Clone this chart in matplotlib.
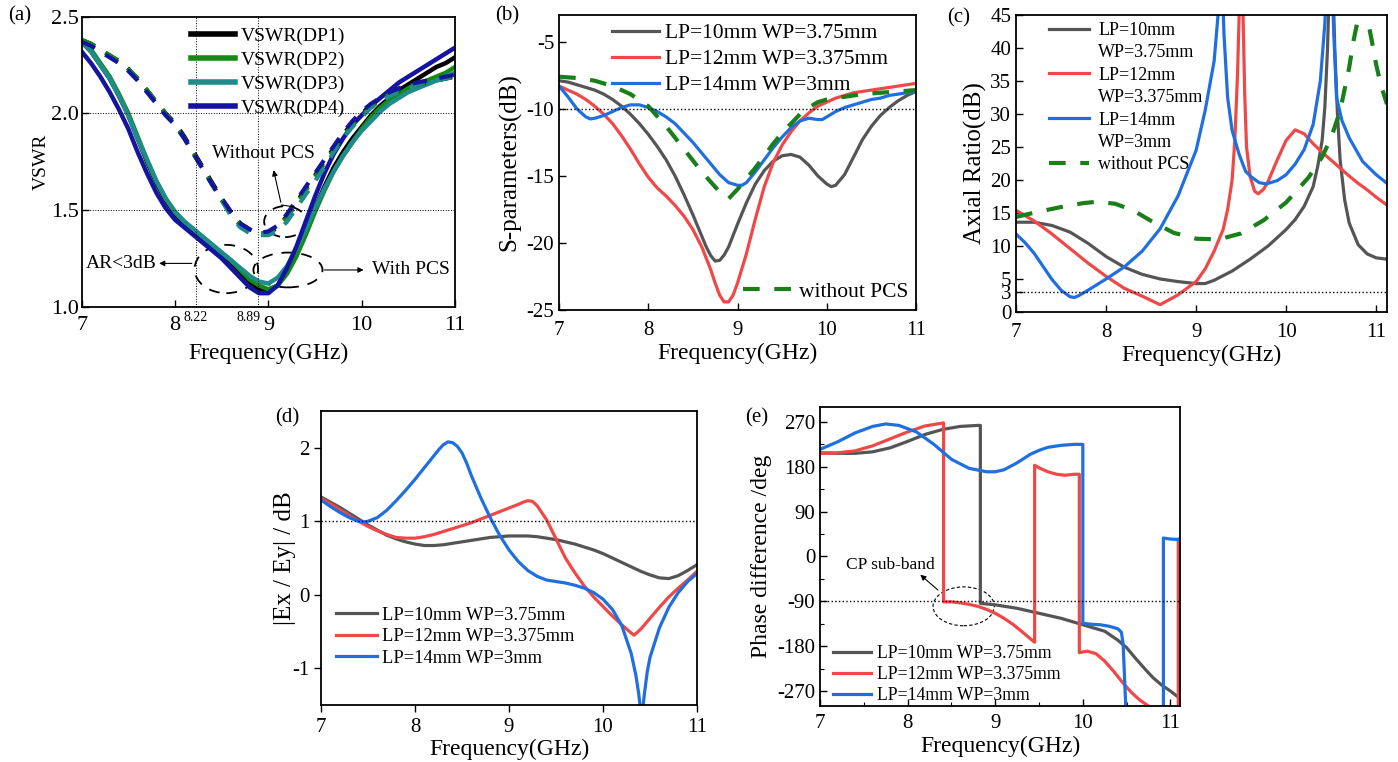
import matplotlib
matplotlib.use("Agg")
import matplotlib.pyplot as plt
from matplotlib.patches import Ellipse
from matplotlib.lines import Line2D
from matplotlib.ticker import MultipleLocator

plt.rcParams['font.family'] = ['Liberation Serif', 'DejaVu Serif']
plt.rcParams['axes.unicode_minus'] = False

# ---------------- (a) VSWR ----------------
f_a = [7.0, 7.1, 7.2, 7.3, 7.4, 7.5, 7.6, 7.7, 7.8, 7.9, 8.0, 8.1, 8.2, 8.3, 8.4, 8.5, 8.6, 8.7, 8.8, 8.9,
       9.0, 9.1, 9.2, 9.3, 9.4, 9.5, 9.6, 9.7, 9.8, 9.9, 10.0, 10.1, 10.2, 10.3, 10.4, 10.5, 10.6, 10.7, 10.8, 10.9, 11.0]
vswr_dp1 = [2.37, 2.32, 2.25, 2.18, 2.09, 1.99, 1.87, 1.75, 1.64, 1.55, 1.48, 1.43, 1.39, 1.35, 1.31, 1.27, 1.23, 1.18, 1.13, 1.09,
            1.08, 1.11, 1.18, 1.28, 1.39, 1.51, 1.62, 1.72, 1.80, 1.87, 1.93, 1.99, 2.04, 2.08, 2.12, 2.15, 2.18, 2.21, 2.24, 2.26, 2.29]
vswr_dp2 = [2.38, 2.33, 2.26, 2.19, 2.10, 2.00, 1.88, 1.76, 1.65, 1.56, 1.49, 1.44, 1.40, 1.36, 1.32, 1.28, 1.24, 1.19, 1.14, 1.11,
            1.09, 1.11, 1.17, 1.26, 1.37, 1.49, 1.60, 1.70, 1.78, 1.85, 1.92, 1.98, 2.03, 2.07, 2.10, 2.13, 2.15, 2.17, 2.19, 2.21, 2.24]
vswr_dp3 = [2.37, 2.32, 2.25, 2.18, 2.09, 1.99, 1.87, 1.76, 1.65, 1.56, 1.49, 1.44, 1.40, 1.36, 1.32, 1.28, 1.24, 1.20, 1.16, 1.13,
            1.12, 1.15, 1.21, 1.30, 1.40, 1.51, 1.61, 1.70, 1.78, 1.85, 1.91, 1.96, 2.01, 2.05, 2.08, 2.11, 2.13, 2.15, 2.17, 2.19, 2.21]
vswr_dp4 = [2.32, 2.26, 2.19, 2.11, 2.02, 1.92, 1.80, 1.69, 1.59, 1.51, 1.45, 1.41, 1.37, 1.33, 1.29, 1.25, 1.20, 1.15, 1.10, 1.07,
            1.07, 1.11, 1.20, 1.31, 1.44, 1.57, 1.69, 1.79, 1.87, 1.94, 1.99, 2.04, 2.08, 2.12, 2.16, 2.19, 2.22, 2.25, 2.28, 2.31, 2.34]
nopcs_dp1 = [2.38, 2.36, 2.33, 2.30, 2.27, 2.23, 2.18, 2.12, 2.06, 2.00, 1.95, 1.88, 1.80, 1.72, 1.64, 1.56, 1.49, 1.43, 1.40, 1.38,
             1.38, 1.41, 1.47, 1.54, 1.61, 1.68, 1.75, 1.82, 1.89, 1.95, 2.00, 2.04, 2.07, 2.10, 2.12, 2.14, 2.15, 2.16, 2.17, 2.18, 2.19]
nopcs_dp2 = [2.38, 2.36, 2.33, 2.30, 2.27, 2.23, 2.18, 2.12, 2.06, 2.00, 1.94, 1.87, 1.79, 1.71, 1.63, 1.55, 1.48, 1.42, 1.39, 1.38,
             1.38, 1.41, 1.46, 1.53, 1.60, 1.67, 1.74, 1.81, 1.88, 1.94, 1.99, 2.03, 2.07, 2.10, 2.12, 2.14, 2.15, 2.16, 2.17, 2.18, 2.19]
nopcs_dp3 = [2.37, 2.35, 2.32, 2.29, 2.26, 2.22, 2.17, 2.11, 2.05, 1.99, 1.94, 1.87, 1.79, 1.71, 1.63, 1.55, 1.47, 1.41, 1.38, 1.37,
             1.37, 1.39, 1.44, 1.51, 1.58, 1.65, 1.72, 1.80, 1.87, 1.93, 1.98, 2.03, 2.06, 2.09, 2.11, 2.13, 2.15, 2.16, 2.17, 2.18, 2.19]
nopcs_dp4 = [2.37, 2.35, 2.32, 2.29, 2.26, 2.22, 2.17, 2.11, 2.05, 1.99, 1.94, 1.87, 1.79, 1.71, 1.63, 1.56, 1.49, 1.43, 1.40, 1.38,
             1.39, 1.42, 1.48, 1.55, 1.62, 1.69, 1.76, 1.83, 1.90, 1.96, 2.01, 2.05, 2.08, 2.11, 2.13, 2.15, 2.16, 2.17, 2.18, 2.19, 2.20]

# ---------------- (b) S11 ----------------
f_b10 = [7.0, 7.1, 7.2, 7.3, 7.4, 7.5, 7.6, 7.7, 7.8, 7.9, 8.0, 8.1, 8.2, 8.3, 8.4, 8.5, 8.6, 8.65, 8.7, 8.75, 8.8, 8.85, 8.9,
         9.0, 9.1, 9.2, 9.3, 9.4, 9.5, 9.6, 9.7, 9.8, 9.9, 10.0, 10.05, 10.1, 10.2, 10.3, 10.4, 10.5, 10.6, 10.7, 10.8, 10.9, 11.0]
s11_lp10 = [-7.9, -8.0, -8.2, -8.4, -8.6, -8.9, -9.3, -9.8, -10.4, -11.1, -11.9, -12.8, -13.8, -15.0, -16.4, -17.9, -19.5, -20.3, -20.95, -21.35, -21.3, -20.9, -20.3,
            -18.6, -17.0, -15.6, -14.6, -13.9, -13.5, -13.4, -13.6, -14.2, -15.0, -15.6, -15.8, -15.7, -14.9, -13.6, -12.3, -11.3, -10.5, -9.9, -9.4, -9.0, -8.7]
f_b12 = [7.0, 7.1, 7.2, 7.3, 7.4, 7.5, 7.6, 7.7, 7.8, 7.9, 8.0, 8.1, 8.2, 8.3, 8.4, 8.5, 8.6, 8.7, 8.75, 8.8, 8.85, 8.9, 8.95,
         9.0, 9.1, 9.2, 9.3, 9.4, 9.5, 9.6, 9.7, 9.8, 9.9, 10.0, 10.1, 10.2, 10.3, 10.4, 10.5, 10.6, 10.7, 10.8, 10.9, 11.0]
s11_lp12 = [-8.3, -8.6, -8.9, -9.3, -9.8, -10.4, -11.1, -12.0, -13.0, -14.1, -15.1, -15.9, -16.5, -17.2, -18.0, -19.0, -20.3, -22.0, -23.0, -23.9, -24.4, -24.4, -23.9,
            -23.0, -20.8, -18.2, -15.8, -14.0, -12.7, -11.7, -10.9, -10.3, -9.8, -9.5, -9.2, -9.0, -8.8, -8.7, -8.6, -8.5, -8.4, -8.3, -8.2, -8.1]
f_b14 = [7.0, 7.1, 7.2, 7.3, 7.35, 7.4, 7.5, 7.6, 7.7, 7.8, 7.9, 8.0, 8.1, 8.2, 8.3, 8.4, 8.5, 8.6, 8.7, 8.8, 8.9,
         9.0, 9.05, 9.1, 9.2, 9.3, 9.4, 9.5, 9.6, 9.7, 9.8, 9.9, 9.95, 10.0, 10.1, 10.2, 10.3, 10.4, 10.5, 10.6, 10.7, 10.8, 10.9, 11.0]
s11_lp14 = [-8.3, -9.1, -10.0, -10.6, -10.75, -10.7, -10.5, -10.2, -9.9, -9.7, -9.7, -9.9, -10.2, -10.6, -11.1, -11.8, -12.5, -13.3, -14.1, -14.9, -15.5,
            -15.7, -15.7, -15.5, -14.7, -13.8, -12.9, -12.1, -11.4, -10.9, -10.7, -10.8, -10.8, -10.6, -10.2, -9.9, -9.7, -9.5, -9.3, -9.2, -9.0, -8.9, -8.8, -8.7]
f_bno = [7.0, 7.2, 7.4, 7.6, 7.8, 8.0, 8.2, 8.4, 8.6, 8.8, 8.9, 9.0, 9.1, 9.2, 9.3, 9.4, 9.5, 9.6, 9.7, 9.8, 9.9, 10.0, 10.2, 10.4, 10.6, 10.8, 11.0]
s11_nopcs = [-7.6, -7.7, -7.9, -8.3, -8.9, -9.8, -11.3, -13.0, -14.7, -16.2, -16.7, -16.0, -15.2, -14.4, -13.5, -12.6, -11.8, -11.1, -10.4, -9.9, -9.5, -9.3, -9.1, -8.9, -8.8, -8.7, -8.6]

# ---------------- (c) Axial ratio ----------------
f_c10 = [7.0, 7.2, 7.4, 7.6, 7.8, 8.0, 8.2, 8.4, 8.6, 8.8, 9.0, 9.1, 9.2, 9.4, 9.6, 9.8, 10.0, 10.1, 10.2, 10.3, 10.35,
         10.4, 10.43, 10.46, 10.48, 10.5, 10.52, 10.54, 10.57, 10.6, 10.65, 10.7, 10.8, 10.9, 11.0, 11.12]
ar_lp10 = [13.6, 13.6, 13.1, 12.1, 10.4, 8.4, 6.8, 5.7, 5.0, 4.6, 4.3, 4.3, 4.8, 6.2, 8.0, 10.0, 12.5, 14.0, 16.0, 19.0, 22.0,
           26.0, 31.0, 40.0, 50.0, 55.0, 50.0, 40.0, 30.0, 23.0, 17.0, 13.5, 10.2, 8.8, 8.2, 8.0]
f_c12 = [7.0, 7.2, 7.4, 7.6, 7.8, 8.0, 8.2, 8.4, 8.6, 8.8, 9.0, 9.1, 9.2, 9.3, 9.35, 9.4, 9.43, 9.46, 9.48, 9.5, 9.52,
         9.54, 9.56, 9.6, 9.65, 9.69, 9.75, 9.8, 9.9, 10.0, 10.1, 10.2, 10.3, 10.4, 10.5, 10.6, 10.7, 10.8, 10.9, 11.0, 11.12]
ar_lp12 = [15.4, 13.8, 11.8, 9.6, 7.4, 5.4, 3.6, 2.4, 1.1, 2.6, 4.6, 6.5, 9.2, 12.5, 15.5, 20.0, 26.0, 36.0, 46.0, 50.0, 46.0,
           33.0, 25.0, 20.5, 18.3, 17.9, 18.6, 19.8, 23.0, 26.0, 27.6, 27.0, 25.5, 24.2, 23.0, 21.8, 20.6, 19.5, 18.5, 17.4, 16.2]
f_c14 = [7.0, 7.1, 7.2, 7.3, 7.4, 7.5, 7.6, 7.65, 7.7, 7.8, 8.0, 8.2, 8.4, 8.6, 8.8, 9.0, 9.1, 9.2, 9.25, 9.27, 9.29,
         9.31, 9.35, 9.4, 9.48, 9.55, 9.61, 9.7, 9.78, 9.9, 10.0, 10.1, 10.2, 10.3, 10.38, 10.43, 10.45, 10.51, 10.53, 10.56,
         10.62, 10.7, 10.85, 11.0, 11.12]
ar_lp14 = [11.8, 10.5, 8.9, 6.9, 4.9, 3.3, 2.3, 2.2, 2.5, 3.3, 5.0, 6.8, 9.2, 12.6, 17.6, 24.5, 30.5, 38.0, 46.0, 50.0, 50.0,
           42.0, 32.5, 27.5, 23.8, 21.3, 20.5, 19.6, 19.4, 19.9, 20.8, 22.4, 24.6, 28.4, 35.0, 43.7, 50.0, 50.0, 42.0, 32.5,
           29.0, 26.4, 22.8, 20.8, 19.5]
f_cno = [7.0, 7.25, 7.5, 7.75, 7.9, 8.1, 8.3, 8.5, 8.75, 9.0, 9.25, 9.5, 9.75, 10.0, 10.25, 10.4, 10.5, 10.6, 10.7, 10.75,
         10.8, 10.86, 10.9, 10.95, 11.0, 11.05, 11.12]
ar_nopcs = [14.4, 15.2, 15.9, 16.5, 16.7, 16.4, 15.4, 13.8, 12.0, 11.1, 11.0, 11.9, 13.9, 16.6, 20.4, 23.5, 26.4, 30.5, 37.0, 41.2,
            44.5, 46.5, 44.7, 41.2, 37.5, 34.5, 31.5]

# ---------------- (d) |Ex/Ey| ----------------
f_d = [7.0, 7.1, 7.2, 7.3, 7.4, 7.5, 7.6, 7.7, 7.8, 7.9, 8.0, 8.1, 8.2, 8.3, 8.4, 8.5, 8.6, 8.7, 8.8, 8.9,
       9.0, 9.1, 9.2, 9.3, 9.4, 9.5, 9.6, 9.7, 9.8, 9.9, 10.0, 10.1, 10.2, 10.3, 10.4, 10.5, 10.6, 10.7, 10.8, 10.9, 11.0]
exey_lp10 = [1.33, 1.26, 1.19, 1.11, 1.03, 0.95, 0.88, 0.81, 0.76, 0.72, 0.69, 0.67, 0.67, 0.68, 0.70, 0.72, 0.74, 0.76, 0.78, 0.79,
             0.80, 0.80, 0.80, 0.79, 0.77, 0.75, 0.72, 0.69, 0.65, 0.61, 0.56, 0.50, 0.44, 0.38, 0.32, 0.27, 0.23, 0.22, 0.26, 0.33, 0.41]
f_d12 = [7.0, 7.1, 7.2, 7.3, 7.4, 7.5, 7.6, 7.7, 7.8, 7.9, 8.0, 8.1, 8.2, 8.3, 8.4, 8.5, 8.6, 8.7, 8.8, 8.9,
         9.0, 9.1, 9.15, 9.2, 9.25, 9.3, 9.4, 9.5, 9.6, 9.7, 9.8, 9.9, 10.0, 10.1, 10.2, 10.3, 10.33, 10.4, 10.5, 10.6, 10.7, 10.8, 10.9, 11.0]
exey_lp12 = [1.31, 1.24, 1.16, 1.08, 1.00, 0.93, 0.87, 0.82, 0.78, 0.77, 0.77, 0.79, 0.82, 0.86, 0.90, 0.94, 0.98, 1.03, 1.08, 1.13,
             1.18, 1.23, 1.26, 1.28, 1.27, 1.21, 1.02, 0.76, 0.50, 0.30, 0.12, -0.03, -0.16, -0.29, -0.41, -0.52, -0.55, -0.47, -0.32, -0.17, -0.03, 0.09, 0.20, 0.32]
f_d14 = [7.0, 7.1, 7.2, 7.3, 7.4, 7.45, 7.5, 7.6, 7.7, 7.8, 7.9, 8.0, 8.1, 8.2, 8.25, 8.3, 8.35, 8.4, 8.45, 8.5, 8.55, 8.6, 8.7, 8.8, 8.9,
         9.0, 9.1, 9.2, 9.3, 9.4, 9.5, 9.6, 9.7, 9.8, 9.9, 10.0, 10.1, 10.2, 10.3, 10.35, 10.38, 10.41, 10.44, 10.47, 10.5,
         10.6, 10.7, 10.8, 10.9, 11.0]
exey_lp14 = [1.29, 1.20, 1.12, 1.05, 1.00, 0.99, 1.00, 1.05, 1.15, 1.28, 1.42, 1.57, 1.73, 1.89, 1.97, 2.04, 2.08, 2.07, 2.02, 1.93, 1.79, 1.62, 1.32, 1.05, 0.81,
             0.61, 0.45, 0.33, 0.25, 0.20, 0.18, 0.16, 0.13, 0.09, 0.03, -0.06, -0.20, -0.42, -0.80, -1.10, -1.35, -1.70, -1.35, -1.05, -0.85,
             -0.45, -0.17, 0.03, 0.18, 0.29]

# ---------------- (e) Phase difference ----------------
f_e10 = [7.0, 7.2, 7.4, 7.6, 7.8, 8.0, 8.2, 8.4, 8.6, 8.8, 8.83, 8.83, 9.0, 9.25, 9.5, 9.75, 10.0, 10.25, 10.4, 10.5, 10.6, 10.7, 10.8, 10.9, 11.0, 11.11]
ph_lp10 = [208, 207, 207, 210, 218, 231, 245, 255, 261, 263, 263, -94, -97, -104, -114, -124, -137, -150, -168, -183, -204, -224, -243, -258, -270, -285]
f_e12 = [7.0, 7.2, 7.4, 7.6, 7.8, 8.0, 8.2, 8.41, 8.41, 8.5, 8.6, 8.7, 8.8, 8.9, 9.0, 9.1, 9.2, 9.3, 9.4, 9.45, 9.45,
         9.5, 9.6, 9.7, 9.8, 9.9, 9.96, 9.96, 10.05, 10.15, 10.25, 10.35, 10.45, 10.55, 10.65, 10.75, 10.9, 11.09, 11.09, 11.11]
ph_lp12 = [207, 208, 212, 222, 236, 250, 262, 268, -91, -91, -93, -96, -100, -106, -114, -124, -136, -150, -165, -172, 183,
           178, 170, 165, 163, 165, 165, -193, -190, -195, -210, -230, -252, -272, -288, -300, -320, -340, 35, 33]
f_e14 = [7.0, 7.2, 7.4, 7.6, 7.75, 7.9, 8.1, 8.3, 8.5, 8.7, 8.9, 9.0, 9.1, 9.25, 9.4, 9.5, 9.6, 9.75, 9.9, 10.0, 10.0,
         10.1, 10.2, 10.3, 10.4, 10.44, 10.46, 10.49, 10.5, 10.92, 10.92, 11.0, 11.11]
ph_lp14 = [215, 230, 248, 261, 266, 263, 250, 225, 195, 177, 170, 170, 174, 188, 205, 213, 219, 223, 225, 225, -134,
           -136, -137, -140, -145, -152, -175, -300, -320, -320, 37, 35, 34]

legend_lp = ['LP=10mm WP=3.75mm', 'LP=12mm WP=3.375mm', 'LP=14mm WP=3mm']

c_gray = '#555555'
c_red = '#f04848'
c_blue = '#1f6fe0'
c_green = '#1a7f1a'
dp_colors = ['#000000', '#138a13', '#1f8c8c', '#1414a0']

TICK = 15
LAB = 17


def style_axes(ax, direction='in', xpad=8):
    ax.tick_params(direction=direction, labelsize=TICK, length=5, width=1)
    ax.tick_params(axis='x', pad=xpad)
    ax.tick_params(which='minor', direction='in', length=3, width=0.8)
    for s in ax.spines.values():
        s.set_linewidth(1.3)


fig = plt.figure(figsize=(13.98, 7.62), dpi=100)

# (a)
ax = fig.add_axes([0.0584, 0.5975, 0.2671, 0.3806])
for y, c in zip([vswr_dp1, vswr_dp2, vswr_dp3, vswr_dp4], dp_colors):
    ax.plot(f_a, y, color=c, lw=3.2)
for y, c in zip([nopcs_dp1, nopcs_dp2, nopcs_dp3, nopcs_dp4], dp_colors):
    ax.plot(f_a, y, color=c, lw=3.0, dashes=(3.5, 3.0))
for yy in [1.5, 2.0]:
    ax.axhline(yy, color='k', ls=':', lw=0.7)
for xx in [8.22, 8.89]:
    ax.axvline(xx, color='k', ls=':', lw=0.7)
ax.set_xlim(7, 11)
ax.set_ylim(1.0, 2.5)
ax.set_xticks([7, 8, 9, 10, 11])
ax.set_yticks([1.0, 1.5, 2.0, 2.5])
ax.set_yticklabels(['1.0', '1.5', '2.0', '2.5'])
style_axes(ax, xpad=7)
ax.tick_params(labelsize=16)
ax.tick_params(axis='y', pad=2)
ax.set_xlabel('Frequency(GHz)', fontsize=LAB, labelpad=5)
ax.set_ylabel('VSWR', fontsize=14, labelpad=1)
ax.text(8.22, -0.015, '8.22', transform=ax.get_xaxis_transform(), ha='center', va='top', fontsize=10)
ax.text(8.79, -0.015, '8.89', transform=ax.get_xaxis_transform(), ha='center', va='top', fontsize=10)
ax.legend(['VSWR(DP1)', 'VSWR(DP2)', 'VSWR(DP3)', 'VSWR(DP4)'], loc='upper left', bbox_to_anchor=(0.292, 0.965),
          frameon=False, fontsize=14, handlelength=2.3, handletextpad=0.3, labelspacing=0.33, borderpad=0, borderaxespad=0)
leg = ax.get_legend()
for h in leg.get_lines():
    h.set_linestyle('-')
    h.set_linewidth(4)
ax.add_patch(Ellipse((8.55, 1.195), 0.68, 0.25, fill=False, ls=(0, (6, 5)), lw=1.3, color='k'))
ax.add_patch(Ellipse((9.21, 1.19), 0.74, 0.18, fill=False, ls=(0, (6, 5)), lw=1.3, color='k'))
ax.add_patch(Ellipse((9.18, 1.44), 0.45, 0.16, fill=False, ls=(0, (6, 5)), lw=1.3, color='k'))
ax.text(8.95, 1.79, 'Without PCS', ha='center', va='center', fontsize=14)
ax.plot([9.27, 9.14], [1.517, 1.526], color='k', lw=0.8)
ax.annotate('', xy=(9.05, 1.72), xytext=(9.14, 1.526),
            arrowprops=dict(arrowstyle='-|>', color='k', lw=0.8, mutation_scale=8))
ax.text(7.42, 1.224, 'AR<3dB', ha='center', va='center', fontsize=14)
ax.annotate('', xy=(7.8, 1.224), xytext=(8.21, 1.224),
            arrowprops=dict(arrowstyle='-|>', color='k', lw=0.8, mutation_scale=8))
ax.text(10.53, 1.19, 'With PCS', ha='center', va='center', fontsize=14)
ax.annotate('', xy=(10.05, 1.19), xytext=(9.57, 1.19),
            arrowprops=dict(arrowstyle='-|>', color='k', lw=0.8, mutation_scale=8))
fig.text(0.0143, 0.979, '(a)', fontsize=15, ha='center', va='center')

# (b)
ax = fig.add_axes([0.3999, 0.5932, 0.2553, 0.3871])
l1, = ax.plot(f_b10, s11_lp10, color=c_gray, lw=2.3)
l2, = ax.plot(f_b12, s11_lp12, color=c_red, lw=2.3)
l3, = ax.plot(f_b14, s11_lp14, color=c_blue, lw=2.3)
l4, = ax.plot(f_bno, s11_nopcs, color=c_green, lw=3.0, dashes=(4, 3.5))
ax.axhline(-10, color='k', ls=':', lw=1.0)
ax.set_xlim(7, 11)
ax.set_ylim(-25, -3)
ax.set_xticks([7, 8, 9, 10, 11])
ax.set_yticks([-25, -20, -15, -10, -5])
style_axes(ax)
ax.set_xlabel('Frequency(GHz)', fontsize=LAB, labelpad=2)
ax.set_ylabel('S-parameters(dB)', fontsize=18)
lg = ax.legend([l1, l2, l3], legend_lp, loc='upper left', bbox_to_anchor=(0.147, 0.972), frameon=False, fontsize=15.5,
               handlelength=2.2, handletextpad=0.3, labelspacing=0.27, borderpad=0, borderaxespad=0)
ax.add_artist(lg)
ax.legend([l4], ['without PCS'], loc='center left', bbox_to_anchor=(0.515, 0.062), frameon=False, fontsize=15.5,
          handlelength=2.3, handletextpad=0.3, borderpad=0, borderaxespad=0)
fig.text(0.3627, 0.979, '(b)', fontsize=15, ha='center', va='center')

# (c)
ax = fig.add_axes([0.7268, 0.5906, 0.2653, 0.3897])
l1, = ax.plot(f_c10, ar_lp10, color=c_gray, lw=2.3)
l2, = ax.plot(f_c12, ar_lp12, color=c_red, lw=2.3)
l3, = ax.plot(f_c14, ar_lp14, color=c_blue, lw=2.3)
l4, = ax.plot(f_cno, ar_nopcs, color=c_green, lw=3.0, dashes=(4, 3.5))
ax.axhline(3, color='k', ls=':', lw=1.0)
ax.set_xlim(7, 11.12)
ax.set_ylim(0, 45)
ax.set_xticks([7, 8, 9, 10, 11])
ax.set_yticks([0, 3, 5, 10, 15, 20, 25, 30, 35, 40, 45])
style_axes(ax)
ax.set_xlabel('Frequency(GHz)', fontsize=LAB, labelpad=2)
ax.set_ylabel('Axial Ratio(dB)', fontsize=18, labelpad=2)
blank = Line2D([], [], color='none')
ax.legend([l1, blank, l2, blank, l3, blank, l4],
          ['LP=10mm', 'WP=3.75mm', 'LP=12mm', 'WP=3.375mm', 'LP=14mm', 'WP=3mm', 'without PCS'],
          loc='upper left', bbox_to_anchor=(0.09, 0.977), frameon=False, fontsize=13,
          handlelength=2.2, handletextpad=0.5, labelspacing=0.3, borderpad=0, borderaxespad=0)
fig.text(0.6855, 0.977, '(c)', fontsize=15, ha='center', va='center')

# (d)
ax = fig.add_axes([0.2296, 0.0748, 0.2690, 0.3858])
l1, = ax.plot(f_d, exey_lp10, color=c_gray, lw=2.3)
l2, = ax.plot(f_d12, exey_lp12, color=c_red, lw=2.3)
l3, = ax.plot(f_d14, exey_lp14, color=c_blue, lw=2.3)
ax.axhline(1, color='k', ls=':', lw=1.0)
ax.set_xlim(7, 11)
ax.set_ylim(-1.5, 2.5)
ax.set_xticks([7, 8, 9, 10, 11])
ax.set_yticks([-1, 0, 1, 2])
style_axes(ax, direction='out', xpad=4)
ax.set_xlabel('Frequency(GHz)', fontsize=LAB, labelpad=2)
ax.set_ylabel('|Ex / Ey| / dB', fontsize=18, labelpad=-3)
ax.legend([l1, l2, l3], legend_lp, loc='lower left', bbox_to_anchor=(0.04, 0.13), frameon=False, fontsize=13.3,
          handlelength=2.2, handletextpad=0.3, labelspacing=0.24, borderpad=0, borderaxespad=0)
fig.text(0.2053, 0.451, '(d)', fontsize=15, ha='center', va='center')

# (e)
ax = fig.add_axes([0.5866, 0.0735, 0.2575, 0.3924])
l1, = ax.plot(f_e10, ph_lp10, color=c_gray, lw=2.3)
l2, = ax.plot(f_e12, ph_lp12, color=c_red, lw=2.3)
l3, = ax.plot(f_e14, ph_lp14, color=c_blue, lw=2.3)
ax.axhline(-90, color='k', ls=':', lw=1.0)
ax.set_xlim(7, 11.11)
ax.set_ylim(-300, 300)
ax.set_xticks([7, 8, 9, 10, 11])
ax.set_yticks([-270, -180, -90, 0, 90, 180, 270])
ax.xaxis.set_minor_locator(MultipleLocator(0.5))
ax.yaxis.set_minor_locator(MultipleLocator(45))
style_axes(ax, xpad=6)
ax.set_xlabel('Frequency(GHz)', fontsize=LAB, labelpad=2)
ax.set_ylabel('Phase difference /deg', fontsize=17)
ax.add_patch(Ellipse((8.64, -100), 0.7, 78, fill=False, ls=(0, (3, 2)), lw=0.8, color='k'))
ax.text(7.8, -18, 'CP sub-band', ha='center', va='center', fontsize=12.5)
ax.annotate('', xy=(8.12, -33), xytext=(8.37, -71),
            arrowprops=dict(arrowstyle='-|>', color='k', lw=0.8, mutation_scale=8))
ax.legend([l1, l2, l3], legend_lp, loc='lower left', bbox_to_anchor=(0.035, 0.005), frameon=False, fontsize=12.7,
          handlelength=2.2, handletextpad=0.3, labelspacing=0.24, borderpad=0, borderaxespad=0)
fig.text(0.5415, 0.451, '(e)', fontsize=15, ha='center', va='center')

fig.savefig('out.png', dpi=100)
